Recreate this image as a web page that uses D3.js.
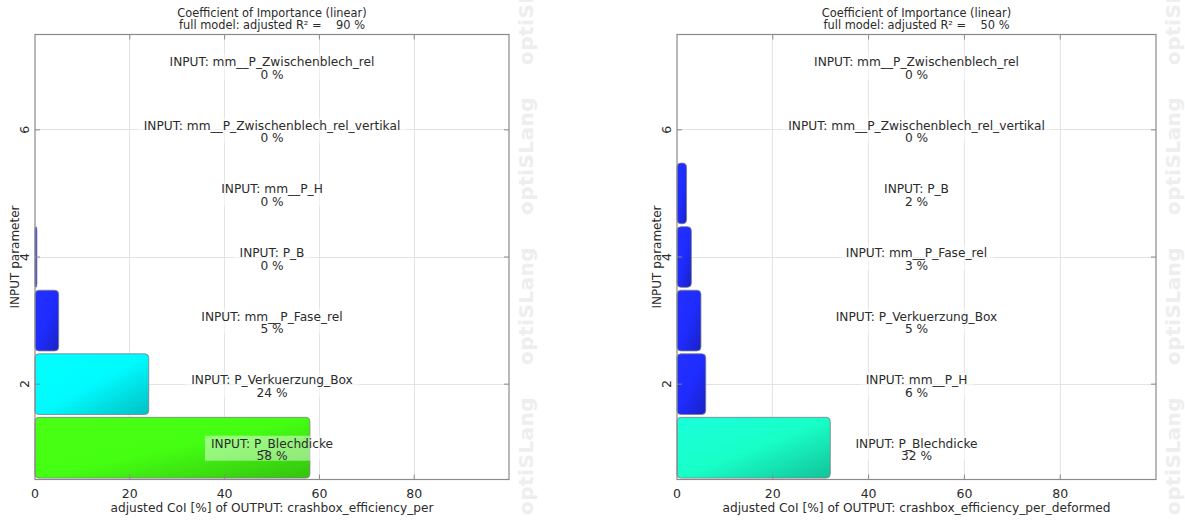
<!DOCTYPE html>
<html>
<head>
<meta charset="utf-8">
<script src="https://cdn.jsdelivr.net/npm/d3@7"></script>
<style>
  body { margin: 0; background: #ffffff; }
  svg { display: block; font-family: "DejaVu Sans", Verdana, sans-serif; }
</style>
</head>
<body>
<svg id="chart" width="1185" height="520"></svg>
<script>
// Coefficient of Importance per input parameter, listed from the bottom row upward
const parametersEfficiency = [
  "P_Blechdicke",
  "P_Verkuerzung_Box",
  "mm__P_Fase_rel",
  "P_B",
  "mm__P_H",
  "mm__P_Zwischenblech_rel_vertikal",
  "mm__P_Zwischenblech_rel"
];
const coiEfficiency = [58, 24, 5, 0.4, 0, 0, 0];

const parametersDeformed = [
  "P_Blechdicke",
  "mm__P_H",
  "P_Verkuerzung_Box",
  "mm__P_Fase_rel",
  "P_B",
  "mm__P_Zwischenblech_rel_vertikal",
  "mm__P_Zwischenblech_rel"
];
const coiDeformed = [32, 6, 5, 3, 2, 0, 0];

const adjustedR2 = [90, 50];
const outputNames = ["crashbox_efficiency_per", "crashbox_efficiency_per_deformed"];
const xTickValues = [0, 20, 40, 60, 80];
const yTickValues = [2, 4, 6];
const watermarkText = "optiSLang";

const svg = d3.select("#chart");
const defs = svg.append("defs");

// value -> base colour of a bar
const barColor = d3.scaleLinear()
  .domain([0, 8, 24, 32, 58, 100])
  .range(["#1f2cff", "#1f2cff", "#00fbff", "#18ffc8", "#44ff12", "#ffee00"])
  .interpolate(d3.interpolateRgb);

const panels = [
  { params: parametersEfficiency, values: coiEfficiency, r2: adjustedR2[0], output: outputNames[0], left: 35, right: 509 },
  { params: parametersDeformed, values: coiDeformed, r2: adjustedR2[1], output: outputNames[1], left: 677, right: 1156 }
];

const plotTop = 34.5, plotBottom = 479.5;
const textColor = "#2b2b2b";
const gridColor = "#e3e3e3";
const frameColor = "#8a8a8a";

panels.forEach((p, pi) => {
  const g = svg.append("g");
  const x = d3.scaleLinear().domain([0, 100]).range([p.left, p.right]);
  const y = d3.scaleLinear().domain([0.5, 7.5]).range([plotBottom, plotTop]);
  const pitch = y(1) - y(2);
  const barH = pitch * 0.955;
  const cx = (p.left + p.right) / 2;
  const cy = (plotTop + plotBottom) / 2;

  // watermark column on the right side, clipped to the page
  const wm = g.append("g").attr("fill", "#eeeeee").attr("font-weight", "bold").attr("font-size", 20);
  [65, 215, 365, 515].forEach(s => {
    wm.append("text")
      .attr("transform", `translate(${p.right + 24},${s}) rotate(-90)`)
      .attr("letter-spacing", 0.5)
      .text(watermarkText);
  });

  // grid
  g.append("g").selectAll("line").data(xTickValues.filter(v => v > 0)).join("line")
    .attr("x1", d => x(d)).attr("x2", d => x(d)).attr("y1", plotTop).attr("y2", plotBottom)
    .attr("stroke", gridColor).attr("stroke-width", 1).attr("shape-rendering", "crispEdges");
  g.append("g").selectAll("line").data(yTickValues).join("line")
    .attr("x1", p.left).attr("x2", p.right).attr("y1", d => y(d)).attr("y2", d => y(d))
    .attr("stroke", gridColor).attr("stroke-width", 1).attr("shape-rendering", "crispEdges");

  // bars
  const rows = p.values.map((v, i) => ({ v, name: p.params[i], row: i + 1 }));
  rows.forEach((d, i) => {
    if (d.v <= 0) return;
    const base = d3.color(barColor(d.v));
    const id = `grad-${pi}-${i}`;
    const lg = defs.append("linearGradient").attr("id", id)
      .attr("x1", 0).attr("y1", 0).attr("x2", 1).attr("y2", 1);
    lg.append("stop").attr("offset", 0).attr("stop-color", base.brighter(0.25).formatHex());
    lg.append("stop").attr("offset", 0.5).attr("stop-color", base.formatHex());
    lg.append("stop").attr("offset", 1).attr("stop-color", base.darker(0.75).formatHex());
    g.append("rect")
      .attr("x", x(0))
      .attr("y", y(d.row) - barH / 2)
      .attr("width", x(d.v) - x(0))
      .attr("height", barH)
      .attr("rx", 4).attr("ry", 4)
      .attr("fill", `url(#${id})`)
      .attr("stroke", "#7d7d8a").attr("stroke-width", 0.8);
  });

  // frame
  g.append("rect").attr("x", p.left).attr("y", plotTop)
    .attr("width", p.right - p.left).attr("height", plotBottom - plotTop)
    .attr("fill", "none").attr("stroke", frameColor).attr("stroke-width", 1.2);

  // inward ticks on all four sides
  const ticks = g.append("g").attr("stroke", frameColor).attr("stroke-width", 1);
  xTickValues.filter(v => v > 0).forEach(v => {
    ticks.append("line").attr("x1", x(v)).attr("x2", x(v)).attr("y1", plotBottom).attr("y2", plotBottom - 5);
    ticks.append("line").attr("x1", x(v)).attr("x2", x(v)).attr("y1", plotTop).attr("y2", plotTop + 5);
  });
  yTickValues.forEach(v => {
    ticks.append("line").attr("x1", p.left).attr("x2", p.left + 5).attr("y1", y(v)).attr("y2", y(v));
    ticks.append("line").attr("x1", p.right).attr("x2", p.right - 5).attr("y1", y(v)).attr("y2", y(v));
  });

  // tick labels
  g.append("g").selectAll("text").data(xTickValues).join("text")
    .attr("x", d => x(d)).attr("y", plotBottom + 18)
    .attr("text-anchor", "middle").attr("font-size", 12.5).attr("fill", textColor)
    .text(d => d);
  g.append("g").selectAll("text").data(yTickValues).join("text")
    .attr("transform", d => `translate(${p.left - 6},${y(d)}) rotate(-90)`)
    .attr("text-anchor", "middle").attr("font-size", 12.5).attr("fill", textColor)
    .text(d => d);

  // axis titles
  g.append("text")
    .attr("transform", `translate(${p.left - 16},${cy}) rotate(-90)`)
    .attr("text-anchor", "middle").attr("font-size", 12).attr("fill", textColor)
    .text("INPUT parameter");
  g.append("text")
    .attr("x", cx).attr("y", plotBottom + 32)
    .attr("text-anchor", "middle").attr("font-size", 12.2).attr("fill", textColor)
    .text(`adjusted CoI [%] of OUTPUT: ${p.output}`);

  // chart title
  const title = g.append("text").attr("text-anchor", "middle").attr("font-size", 11.4).attr("fill", textColor);
  title.append("tspan").attr("x", cx).attr("y", 17).text("Coefficient of Importance (linear)");
  title.append("tspan").attr("x", cx).attr("y", 29)
    .style("white-space", "pre").text(`full model: adjusted R\u00b2 =    ${p.r2} %`);

  // parameter labels with a translucent backdrop
  rows.forEach(d => {
    const lg = g.append("g").attr("transform", `translate(${cx},${y(d.row)})`);
    const box = lg.append("rect").attr("fill", "#ffffff").attr("fill-opacity", 0.45);
    const t = lg.append("text").attr("text-anchor", "middle").attr("font-size", 12.2).attr("fill", textColor);
    t.append("tspan").attr("x", 0).attr("y", 0).text(`INPUT: ${d.name}`);
    t.append("tspan").attr("x", 0).attr("y", 12.5).text(`${Math.round(d.v)} %`);
    const bb = t.node().getBBox();
    box.attr("x", bb.x - 6).attr("y", -12).attr("width", bb.width + 12).attr("height", 25);
  });
});
</script>
</body>
</html>
